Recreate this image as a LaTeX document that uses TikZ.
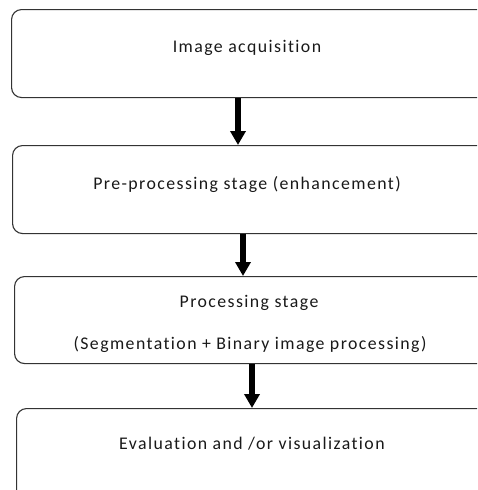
\documentclass[tikz,border=0pt]{standalone}
\usepackage{fontspec}
\setmainfont{Carlito}[LetterSpace=8, Ligatures={NoCommon}]
\usetikzlibrary{arrows.meta}
\tikzset{
  stagebox/.style={draw=black!80, line width=1.1pt, rounded corners=10pt, anchor=north west, inner sep=0pt},
  stagetext/.style={font=\fontsize{17.8pt}{20pt}\selectfont, text=black!90, inner sep=0pt},
  flow/.style={line width=6pt, -{Triangle[width=15pt,length=14pt]}, black},
}
\begin{document}
\begin{tikzpicture}[x=1pt,y=-1pt]
  \useasboundingbox (0,0) rectangle (477,490);
  \clip (0,0) rectangle (477,490);
  % stage boxes (their right sides run past the page edge)
  \node[stagebox, minimum width=480pt, minimum height=88pt] (b1) at (11,9) {};
  \node[stagebox, minimum width=480pt, minimum height=88pt] (b2) at (12,145) {};
  \node[stagebox, minimum width=480pt, minimum height=87pt] (b3) at (14,276) {};
  \node[stagebox, minimum width=480pt, minimum height=100pt] (b4) at (16,408) {};
  % labels
  \node[stagetext] (t1) at (247,47.5) {Image acquisition};
  \node[stagetext] (t2) at (247,184.5) {Pre-processing stage (enhancement)};
  \node[stagetext] (t3a) at (249,302.5) {Processing stage};
  \node[stagetext] (t3b) at (250,344.5) {(Segmentation + Binary image processing)};
  \node[stagetext] (t4) at (252,443.5) {Evaluation and /or visualization};
  % arrows between stages
  \coordinate (x1) at (238,0);
  \coordinate (x2) at (243,0);
  \coordinate (x3) at (252,0);
  \draw[flow] (b1.south -| x1) -- (b2.north -| x1);
  \draw[flow] (b2.south -| x2) -- (b3.north -| x2);
  \draw[flow] (b3.south -| x3) -- (b4.north -| x3);
\end{tikzpicture}
\end{document}
